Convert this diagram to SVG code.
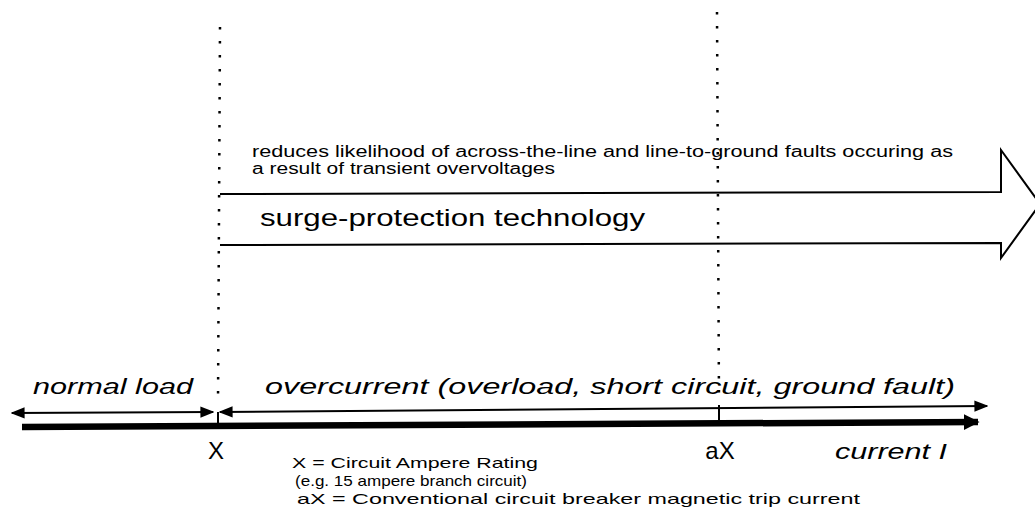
<svg xmlns="http://www.w3.org/2000/svg" width="1035" height="525" viewBox="0 0 1035 525">
<style>
text{font-family:"Liberation Sans",Arial,sans-serif;fill:#000}
.it{font-style:italic}
.dot{stroke:#000;stroke-width:2.5;stroke-dasharray:2.5 11.5;fill:none}
.thin{stroke:#000;stroke-width:2;fill:none}
.thick{stroke:#000;stroke-width:6.5;fill:none}
</style>
<defs>
<marker id="ahThin" viewBox="0 0 10 10" refX="9" refY="5" markerWidth="14" markerHeight="14" orient="auto-start-reverse" markerUnits="userSpaceOnUse"><path d="M0,1 L10,5 L0,9 Z" fill="#000"/></marker>
<marker id="ahThick" viewBox="0 0 10 10" refX="9" refY="5" markerWidth="16" markerHeight="16" orient="auto" markerUnits="userSpaceOnUse"><path d="M0,0 L10,5 L0,10 Z" fill="#000"/></marker>
</defs>
<g id="connectors">
<line class="dot" x1="220" y1="27" x2="218" y2="402"/>
<line class="dot" x1="717" y1="12" x2="719" y2="402"/>
<polyline class="thin" points="220,194 1001,192 1001,150 1040,204 1001,258 1001,243 220,245"/>
<line class="thin" x1="12" y1="413" x2="213" y2="412" marker-start="url(#ahThin)" marker-end="url(#ahThin)"/>
<line class="thin" x1="220" y1="412" x2="987" y2="406" marker-start="url(#ahThin)" marker-end="url(#ahThin)"/>
<line class="thin" x1="218" y1="412" x2="218" y2="424"/>
<line class="thin" x1="719" y1="405" x2="719" y2="420"/>
<line class="thick" x1="22" y1="427" x2="978" y2="422" marker-end="url(#ahThick)"/>
</g>
<g id="surge">
<text x="252" y="157" font-size="16" textLength="701" lengthAdjust="spacingAndGlyphs">reduces likelihood of across-the-line and line-to-ground faults occuring as</text>
<text x="252" y="174" font-size="16" textLength="303" lengthAdjust="spacingAndGlyphs">a result of transient overvoltages</text>
<text x="260" y="226" font-size="24" textLength="385" lengthAdjust="spacingAndGlyphs">surge-protection technology</text>
</g>
<g id="normal-load"><text class="it" x="33" y="394" font-size="22" textLength="160" lengthAdjust="spacingAndGlyphs">normal load</text></g>
<g id="overcurrent"><text class="it" x="265" y="394" font-size="22" textLength="690" lengthAdjust="spacingAndGlyphs">overcurrent (overload, short circuit, ground fault)</text></g>
<g id="x-mark"><text x="216" y="459" font-size="24" text-anchor="middle">X</text></g>
<g id="ax-mark"><text x="720" y="459" font-size="24" text-anchor="middle">aX</text></g>
<g id="current"><text class="it" x="835" y="459" font-size="22" textLength="112" lengthAdjust="spacingAndGlyphs">current I</text></g>
<g id="legend">
<text x="292" y="468" font-size="15" textLength="246" lengthAdjust="spacingAndGlyphs">X = Circuit Ampere Rating</text>
<text x="295" y="486" font-size="15" textLength="232" lengthAdjust="spacingAndGlyphs">(e.g. 15 ampere branch circuit)</text>
<text x="297" y="504" font-size="15" textLength="563" lengthAdjust="spacingAndGlyphs">aX = Conventional circuit breaker magnetic trip current</text>
</g>
</svg>
